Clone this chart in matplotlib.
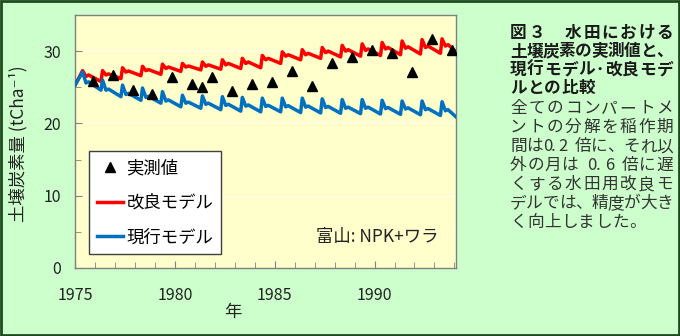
import numpy as np
import matplotlib.pyplot as plt
from matplotlib.lines import Line2D
from matplotlib.patches import Rectangle

plt.rcParams['font.family'] = ['Noto Sans CJK JP', 'DejaVu Sans']

# 実測値 (年, tC/ha)
obs_year = [1975.88, 1976.88, 1977.88, 1978.88, 1979.88, 1980.88, 1981.38, 1981.88,
            1982.88, 1983.88, 1984.88, 1985.88, 1986.88, 1987.88, 1988.88, 1989.88,
            1990.88, 1991.88, 1992.88, 1993.88]
obs_val = [25.9, 26.7, 24.6, 24.1, 26.4, 25.5, 25.0, 26.4, 24.5, 25.5,
           25.7, 27.2, 25.2, 28.3, 29.2, 30.2, 29.7, 27.1, 31.7, 30.2]

# モデル: 各年のピーク・低下後・小山・翌年直前の谷
years = list(range(1975, 1994))
start_val = 25.3
end_year = 1994.08

red_peak = [27.3, 27.3, 27.7, 27.9, 28.2, 28.3, 28.5, 28.8, 29.0, 29.4,
            29.9, 30.2, 30.5, 30.8, 31.0, 31.2, 31.4, 31.6, 31.7]
red_dip = [26.5, 26.7, 27.1, 27.3, 27.6, 27.8, 27.9, 28.1, 28.3, 28.8,
           29.3, 29.5, 29.8, 30.0, 30.1, 30.3, 30.4, 30.5, 30.7]
red_bump = [26.7, 26.85, 27.25, 27.45, 27.8, 27.95, 28.1, 28.3, 28.5, 29.0,
            29.5, 29.7, 30.0, 30.2, 30.3, 30.5, 30.6, 30.7, 30.9]
red_trough = [25.8, 26.2, 26.6, 26.8, 27.2, 27.4, 27.5, 27.6, 27.7, 28.3,
              28.8, 29.0, 29.2, 29.3, 29.4, 29.5, 29.6, 29.7, 29.9]

blue_peak = [27.1, 26.0, 25.3, 24.9, 24.4, 23.9, 23.8, 23.7, 23.6, 23.5,
             23.5, 23.5, 23.4, 23.3, 23.3, 23.2, 23.1, 23.1, 23.0]
blue_dip = [25.6, 24.6, 24.0, 23.6, 23.1, 22.8, 22.65, 22.5, 22.4, 22.35,
            22.3, 22.25, 22.2, 22.1, 22.1, 22.05, 22.0, 21.9, 21.75]
blue_bump = [25.75, 24.75, 24.15, 23.75, 23.25, 22.95, 22.8, 22.65, 22.55, 22.5,
             22.45, 22.4, 22.35, 22.25, 22.25, 22.2, 22.15, 22.05, 21.9]
blue_trough = [24.6, 23.7, 23.2, 22.8, 22.3, 22.1, 21.9, 21.7, 21.6, 21.6,
               21.5, 21.45, 21.4, 21.35, 21.3, 21.25, 21.2, 21.1, 20.9]

# 季節内のタイミング (年の中の位置)
t_peak, t_dip, t_bump, t_trough = 0.38, 0.55, 0.68, 1.30

# 右側の説明文 (行, 両端揃えするか)
title_lines = [('図３　水田における', True), ('土壌炭素の実測値と、', True),
               ('現行モデル･改良モデ', True), ('ルとの比較', False)]
body_lines = [('全てのコンパートメ', True), ('ントの分解を稲作期', True),
              ('間は0.2 倍に、それ以', True), ('外の月は 0.6 倍に遅', True),
              ('くする水田用改良モ', True), ('デルでは、精度が大き', True),
              ('く向上しました。', False)]


def model_line(peak, dip, bump, trough):
    xs = [1975.0]
    ys = [start_val]
    for i, yr in enumerate(years):
        xs += [yr + t_peak, yr + t_dip, yr + t_bump, min(yr + t_trough, end_year)]
        ys += [peak[i], dip[i], bump[i], trough[i]]
    return xs, ys


def put_line(fig, text, y_px, justify, bold, color):
    # 全角=1em, 半角=0.5em の等幅レイアウト
    em = 12 / 72 * 100
    x0, x1 = 510, 673
    w = [0.5 if ord(c) < 0x2000 or c == '･' else 1.0 for c in text]
    total = sum(w) * em
    gap = (x1 - x0 - total) / (len(text) - 1) if justify else 0.4
    x = x0
    for c, wi in zip(text, w):
        fig.text(x / 680, 1 - (y_px + 6) / 336, c, fontsize=12, color=color,
                 fontweight='bold' if bold else 'normal', ha='left', va='baseline')
        x += wi * em + gap


fig = plt.figure(figsize=(6.8, 3.36), dpi=100, facecolor='#ccffcc')
ax = fig.add_axes([0.1103, 0.2024, 0.5603, 0.753])
ax.set_facecolor('#ffffcc')

rx, ry = model_line(red_peak, red_dip, red_bump, red_trough)
bx, by = model_line(blue_peak, blue_dip, blue_bump, blue_trough)
ax.plot(rx, ry, color='#ff0000', lw=2.5, solid_joinstyle='round', zorder=3)
ax.plot(bx, by, color='#0070c0', lw=2.5, solid_joinstyle='round', zorder=3)
ax.plot(obs_year, obs_val, ls='none', marker='^', color='black', ms=7, zorder=4)

ax.set_xlim(1975, end_year)
ax.set_ylim(0, 35)
ax.set_xticks([1975, 1980, 1985, 1990])
ax.set_xticks(np.arange(1976, 1995), minor=True)
ax.set_yticks([0, 10, 20, 30])
ax.set_yticks([5, 15, 25], minor=True)
ax.tick_params(which='both', direction='in', color='#808080')
ax.tick_params(which='major', length=5, labelsize=11.5, colors='#808080', labelcolor='#222222')
ax.tick_params(which='minor', length=4)
ax.tick_params(axis='x', pad=14)
ax.tick_params(axis='y', pad=10)
ax.grid(axis='y', color='#fffff0', lw=0.8, zorder=0)
for s in ax.spines.values():
    s.set_color('#808080')
    s.set_linewidth(1.0)

ax.set_xlabel('年', fontsize=12.5, color='#222222')
ax.xaxis.set_label_coords(0.415, -0.14)
ax.set_ylabel('土壌炭素量 (tCha⁻¹)', fontsize=12.5, color='#222222')
ax.yaxis.set_label_coords(-0.125, 0.49)

handles = [Line2D([], [], ls='none', marker='^', color='black', ms=6.5),
           Line2D([], [], color='#ff0000', lw=2.5),
           Line2D([], [], color='#0070c0', lw=2.5)]
leg = ax.legend(handles, ['実測値', '改良モデル', '現行モデル'],
                loc='lower left', bbox_to_anchor=(0.037, 0.055), borderaxespad=0,
                fontsize=12.5, handlelength=1.5, handletextpad=0.2,
                labelspacing=0.95, borderpad=0.45, fancybox=False,
                framealpha=1, edgecolor='#404040')
leg.get_frame().set_linewidth(1.0)

ax.text(0.953, 0.123, '富山: NPK+ワラ', transform=ax.transAxes, ha='right',
        va='center', fontsize=12.5, color='#222222')

y = 32
for line, just in title_lines:
    put_line(fig, line, y, just, True, '#1a1a1a')
    y += 18.3
y = 107
for line, just in body_lines:
    put_line(fig, line, y, just, False, '#333333')
    y += 19

fig.patches.append(Rectangle((0.0015, 0.003), 0.997, 0.994, transform=fig.transFigure,
                             fill=False, edgecolor='#1f4a1f', lw=2))

fig.savefig('out.png', dpi=100, facecolor=fig.get_facecolor())
